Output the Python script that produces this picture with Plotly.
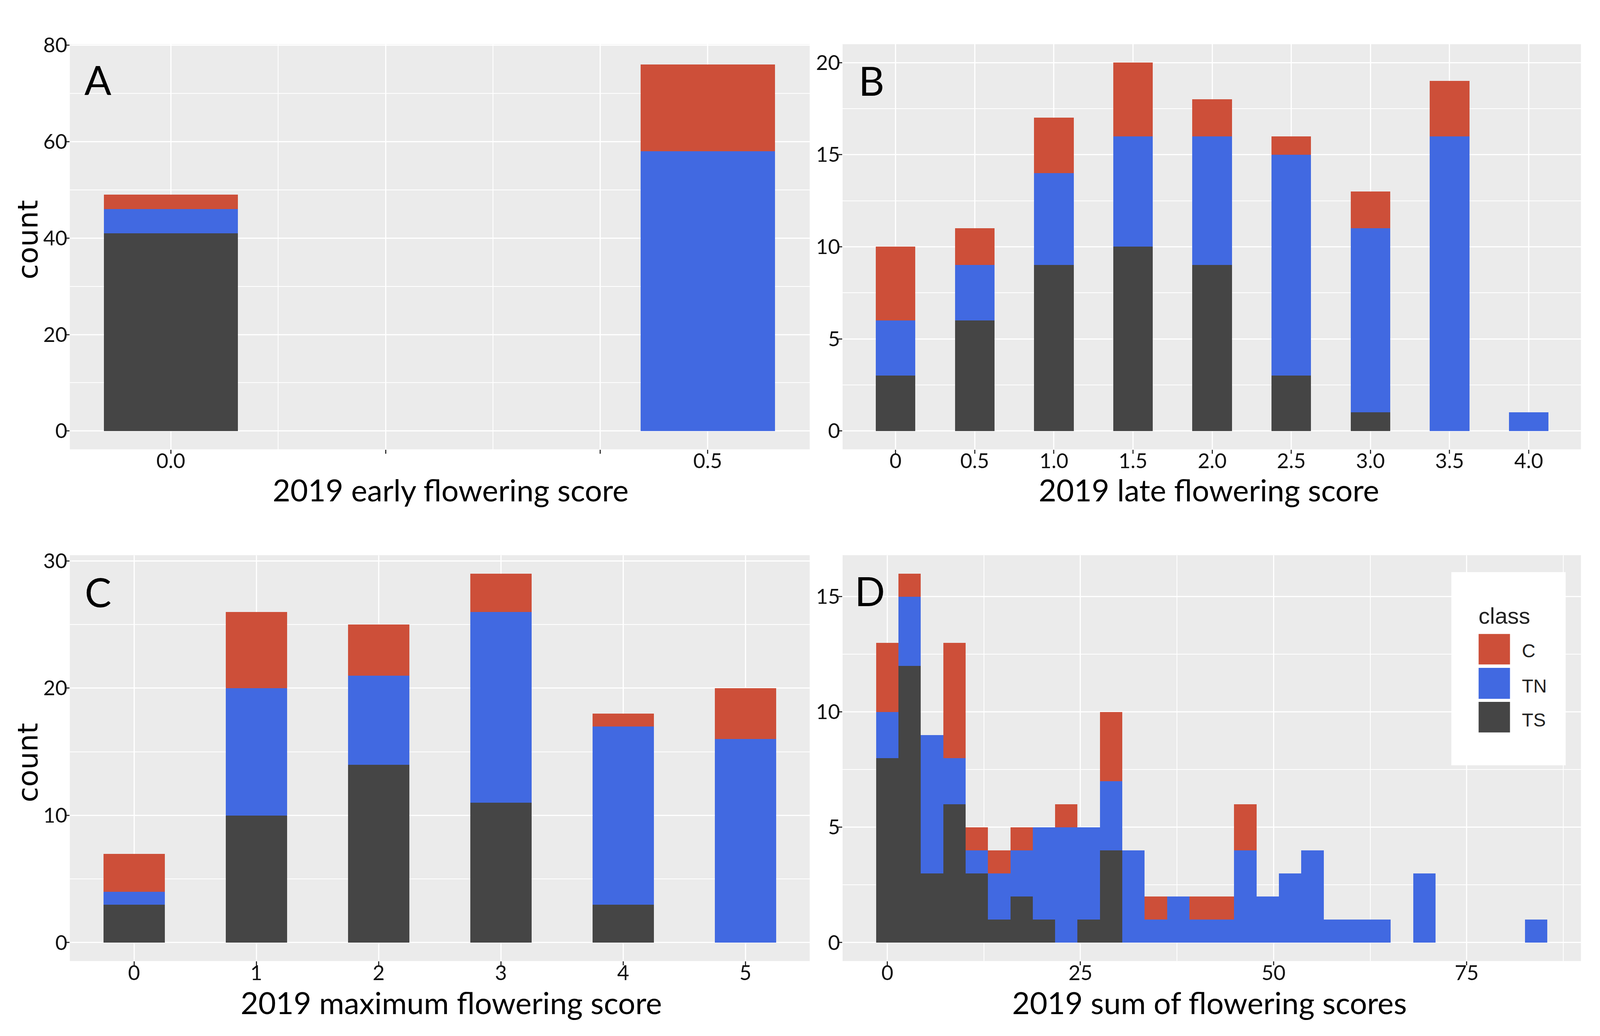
import plotly.graph_objects as go

# ---------------- data ----------------
classes = ["TS", "TN", "C"]
colors = {"C": "#CD4F39", "TN": "#4169E1", "TS": "#454545"}

# Panel A: 2019 early flowering score
A_x = [0.0, 0.5]
A_TS = [41, 0]
A_TN = [5, 58]
A_C = [3, 18]

# Panel B: 2019 late flowering score
B_labels = ["0", "0.5", "1.0", "1.5", "2.0", "2.5", "3.0", "3.5", "4.0"]
B_TS = [3, 6, 9, 10, 9, 3, 1, 0, 0]
B_TN = [3, 3, 5, 6, 7, 12, 10, 16, 1]
B_C = [4, 2, 3, 4, 2, 1, 2, 3, 0]

# Panel C: 2019 maximum flowering score
C_x = [0, 1, 2, 3, 4, 5]
C_TS = [3, 10, 14, 11, 3, 0]
C_TN = [1, 10, 7, 15, 14, 16]
C_C = [3, 6, 4, 3, 1, 4]

# Panel D: 2019 sum of flowering scores (histogram, 30 bins over 0..84)
D_min, D_max, D_nbins = 0, 84, 30
D_TS = [8, 12, 3, 6, 3, 1, 2, 1, 0, 1, 4, 0, 0, 0, 0, 0, 0, 0, 0, 0, 0, 0, 0, 0, 0, 0, 0, 0, 0, 0]
D_TN = [2, 3, 6, 2, 1, 2, 2, 4, 5, 4, 3, 4, 1, 2, 1, 1, 4, 2, 3, 4, 1, 1, 1, 0, 3, 0, 0, 0, 0, 1]
D_C = [3, 1, 0, 5, 1, 1, 1, 0, 1, 0, 3, 0, 1, 0, 1, 1, 2, 0, 0, 0, 0, 0, 0, 0, 0, 0, 0, 0, 0, 0]

D_binwidth = (D_max - D_min) / (D_nbins - 1)
D_centers = [D_min + k * D_binwidth for k in range(D_nbins)]

# reference layout measured in a 4284 x 2651 picture; page is ~4096 wide with 8px body margin
REF_W, REF_H = 4284, 2651
VIEW_W, VIEW_H, MARGIN = 4096, 2651, 8
FIG_W, FIG_H = VIEW_W - 2 * MARGIN, VIEW_H - 2 * MARGIN

BG = "#EBEBEB"
TICKFONT = dict(family="Lato, Open Sans, sans-serif", size=53, color="#111111")
TITLEFONT = dict(family="Lato, Open Sans, sans-serif", size=78, color="#000000")

fig = go.Figure()

panels = [
    ("x", "y", A_x, {"TS": A_TS, "TN": A_TN, "C": A_C}, 0.125),
    ("x2", "y2", B_labels, {"TS": B_TS, "TN": B_TN, "C": B_C}, 0.5),
    ("x3", "y3", C_x, {"TS": C_TS, "TN": C_TN, "C": C_C}, 0.5),
    ("x4", "y4", D_centers, {"TS": D_TS, "TN": D_TN, "C": D_C}, D_binwidth),
]
for xa, ya, xs, vals, wdt in panels:
    for cl in classes:
        fig.add_trace(go.Bar(
            x=xs, y=vals[cl], width=wdt, xaxis=xa, yaxis=ya,
            marker=dict(color=colors[cl], line=dict(width=0)),
            name=cl, showlegend=False,
        ))


def px_x(p):
    return (p * VIEW_W / REF_W - MARGIN) / FIG_W


def px_y(p):
    return 1 - (p * VIEW_H / REF_H - MARGIN) / FIG_H


left_dom = [px_x(187), px_x(2168)]
right_dom = [px_x(2256), px_x(4233)]
top_dom = [px_y(1132), px_y(83)]
bot_dom = [px_y(2457), px_y(1406)]

common = dict(showline=False, zeroline=False, gridcolor="white", gridwidth=3,
              ticks="outside", ticklen=10, tickwidth=3, tickcolor="#333333",
              tickfont=TICKFONT, fixedrange=True)
xcommon = dict(common, ticklabelstandoff=-26)
ycommon = dict(common, ticklabelstandoff=-15)


def minor(vals):
    return dict(tickvals=vals, showgrid=True, gridcolor="white", gridwidth=1.5, ticks="")


fig.update_layout(
    autosize=True, margin=dict(l=0, r=0, t=0, b=0),
    paper_bgcolor="white", plot_bgcolor=BG, barmode="stack", bargap=0,
    showlegend=False,
    xaxis=dict(domain=left_dom, anchor="y", range=[-0.094, 0.595],
               tickvals=[0.0, 0.2, 0.4, 0.5], ticktext=["0.0", "", "", "0.5"],
               minor=minor([0.1, 0.3]), **xcommon),
    yaxis=dict(domain=top_dom, anchor="x", range=[-3.8, 80.2],
               tickvals=[0, 20, 40, 60, 80], minor=minor([10, 30, 50, 70]), **ycommon),
    xaxis2=dict(domain=right_dom, anchor="y2", type="category", range=[-0.67, 8.66],
                tickvals=B_labels, **xcommon),
    yaxis2=dict(domain=top_dom, anchor="x2", range=[-1, 21],
                tickvals=[0, 5, 10, 15, 20], minor=minor([2.5, 7.5, 12.5, 17.5]), **ycommon),
    xaxis3=dict(domain=left_dom, anchor="y3", range=[-0.525, 5.525],
                tickvals=[0, 1, 2, 3, 4, 5], **xcommon),
    yaxis3=dict(domain=bot_dom, anchor="x3", range=[-1.45, 30.45],
                tickvals=[0, 10, 20, 30], minor=minor([5, 15, 25]), **ycommon),
    xaxis4=dict(domain=right_dom, anchor="y4", range=[-5.79, 89.79],
                tickvals=[0, 25, 50, 75], minor=minor([12.5, 37.5, 62.5, 87.5]), **xcommon),
    yaxis4=dict(domain=bot_dom, anchor="x4", range=[-0.8, 16.8],
                tickvals=[0, 5, 10, 15], minor=minor([2.5, 7.5, 12.5]), **ycommon),
)

ann = []
# x-axis titles
for txt, cx, cy in [("2019 early flowering score", 1206, 1236),
                    ("2019 late flowering score", 3237, 1236),
                    ("2019 maximum flowering score", 1208, 2564),
                    ("2019 sum of flowering scores", 3239, 2564)]:
    ann.append(dict(text=txt, x=px_x(cx), y=px_y(cy), xref="paper", yref="paper",
                    showarrow=False, xanchor="center", yanchor="middle", font=TITLEFONT))
# y-axis titles
for cy in (589, 1943):
    ann.append(dict(text="count", x=px_x(74), y=px_y(cy), xref="paper", yref="paper",
                    showarrow=False, textangle=-90, xanchor="center", yanchor="middle",
                    font=dict(family="DejaVu Sans", size=72, color="#000000")))
# panel letters
for txt, cx, cy in [("A", 262, 174), ("B", 2333, 176), ("C", 262, 1501), ("D", 2329, 1498)]:
    ann.append(dict(text=txt, x=px_x(cx), y=px_y(cy), xref="paper", yref="paper",
                    showarrow=False, xanchor="center", yanchor="middle",
                    font=dict(family="Lato, Open Sans, sans-serif", size=102, color="#000000")))

# manual legend (class)
shapes = [dict(type="rect", xref="paper", yref="paper",
               x0=px_x(3886), x1=px_x(4192), y0=px_y(1950), y1=px_y(1450),
               fillcolor="white", line=dict(width=0), layer="above")]
legend_rows = [("C", 1610, 1689, 1654), ("TN", 1698, 1778, 1745), ("TS", 1786, 1865, 1833)]
for cl, t, b, cy in legend_rows:
    shapes.append(dict(type="rect", xref="paper", yref="paper",
                       x0=px_x(3959), x1=px_x(4043), y0=px_y(b), y1=px_y(t),
                       fillcolor=colors[cl], line=dict(width=0), layer="above"))
    ann.append(dict(text=cl, x=px_x(4073), y=px_y(cy), xref="paper", yref="paper",
                    showarrow=False, xanchor="left", yanchor="middle",
                    font=dict(family="Liberation Sans, Arial, sans-serif", size=48, color="#222222")))
ann.append(dict(text="class", x=px_x(3957), y=px_y(1563), xref="paper", yref="paper",
                showarrow=False, xanchor="left", yanchor="middle",
                font=dict(family="Liberation Sans, Arial, sans-serif", size=58, color="#222222")))

fig.update_layout(annotations=ann, shapes=shapes)

fig.write_html("out.html", config={"responsive": True})
